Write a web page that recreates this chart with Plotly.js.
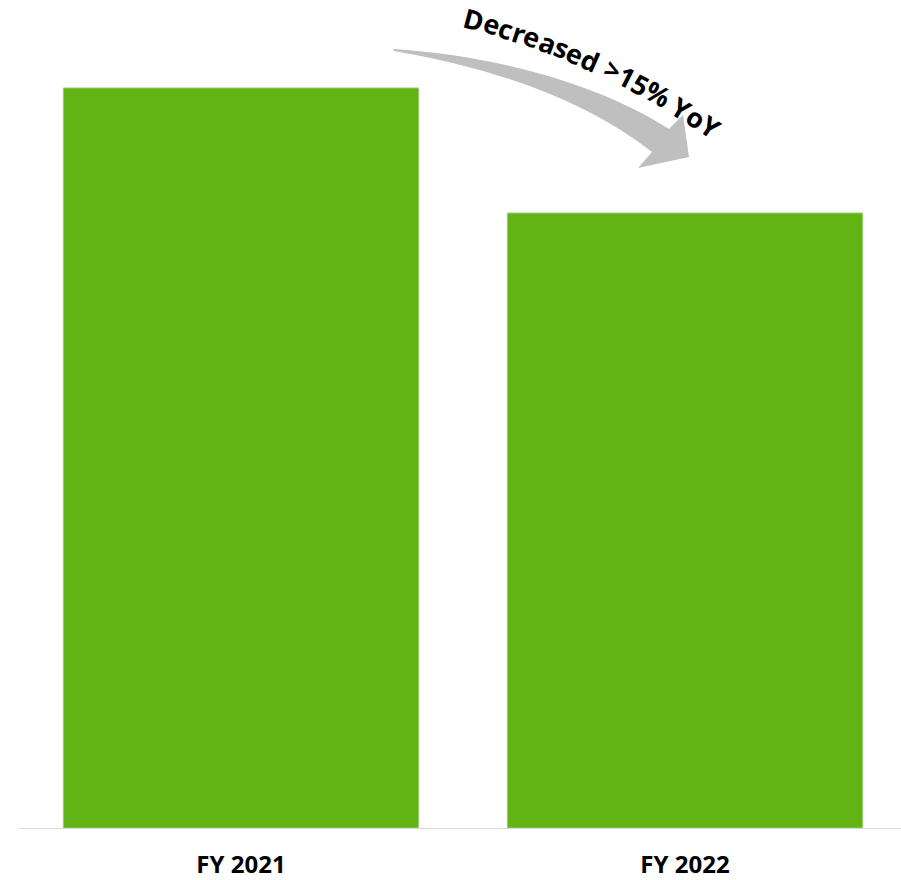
<!DOCTYPE html>
<html><head><meta charset="utf-8">
<script src="https://cdn.plot.ly/plotly-3.0.1.min.js"></script>
<style>html,body{margin:0;padding:0;background:#fff}</style>
</head><body><div id="chart" style="width:901px;height:880px"></div>
<script>
// ---- data ----
const categories = ['FY 2021', 'FY 2022'];
const values = [100, 83.1];
const tickLabels = ['FY 2021', 'FY 2022'];
const calloutText = 'Decreased >15% YoY';

// ---- layout helpers ----
const W = 901, H = 880, M = {l: 19, r: 0, t: 0, b: 52};
const pw = W - M.l - M.r, ph = H - M.t - M.b;
function px(x, y) { return [(x - M.l) / pw, 1 - (y - M.t) / ph]; }
function P(x, y) { const p = px(x, y); return p[0].toFixed(5) + ',' + p[1].toFixed(5); }

// curved arrow (decoration)
const arrowPath = 'M ' + P(393, 49) +
  ' C ' + P(490, 55) + ' ' + P(595, 82) + ' ' + P(669, 129) +
  ' L ' + P(683, 115) + ' L ' + P(689, 157) + ' L ' + P(638, 168) + ' L ' + P(652, 152) +
  ' Q ' + P(558, 79) + ' ' + P(394, 51) + ' Z';

// text along an arc
const fontSize = 27;
const fontFamily = 'Open Sans';
const cv = document.createElement('canvas').getContext('2d');
cv.font = '700 ' + fontSize + 'px "' + fontFamily + '"';
const S = {x: 462, y: 26}, a0 = 14 * Math.PI / 180, R = 760;
const annotations = [];
let s = 0;
for (const ch of calloutText) {
  const w = cv.measureText(ch).width;
  const sc = s + w / 2;
  const a = a0 + sc / R;
  const bx = S.x + R * (Math.sin(a) - Math.sin(a0));
  const by = S.y - R * (Math.cos(a) - Math.cos(a0));
  const off = fontSize * 0.36;
  const cx = bx + Math.sin(a) * off, cy = by - Math.cos(a) * off;
  const p = px(cx, cy);
  if (ch !== ' ') {
    annotations.push({
      x: p[0], y: p[1], xref: 'paper', yref: 'paper', text: ch, showarrow: false,
      xanchor: 'center', yanchor: 'middle', textangle: a * 180 / Math.PI,
      font: {family: fontFamily, size: fontSize, color: '#000000', weight: 700}
    });
  }
  s += w;
}

const trace = {
  type: 'bar', x: categories, y: values,
  marker: {color: '#62b314', line: {color: '#93cf6b', width: 1}},
  width: 0.8, hoverinfo: 'none'
};

const layout = {
  width: W, height: H, margin: M, showlegend: false,
  paper_bgcolor: '#ffffff', plot_bgcolor: '#ffffff',
  xaxis: {
    type: 'category', range: [-0.5, 1.4865], tickvals: categories, ticktext: tickLabels,
    showline: true, linecolor: '#d9d9d9', linewidth: 1, showgrid: false, zeroline: false,
    ticks: 'outside', ticklen: 15, tickcolor: 'rgba(0,0,0,0)', automargin: false,
    tickfont: {family: 'Open Sans', size: 24, color: '#000000', weight: 700}
  },
  yaxis: {range: [0, 828 / 740 * 100], visible: false, showgrid: false, zeroline: false, automargin: false},
  shapes: [{type: 'path', xref: 'paper', yref: 'paper', path: arrowPath, fillcolor: '#bfbfbf', line: {width: 0}, layer: 'above'}],
  annotations: annotations
};

Plotly.newPlot('chart', [trace], layout, {displayModeBar: false, staticPlot: true});
</script>
</body></html>
